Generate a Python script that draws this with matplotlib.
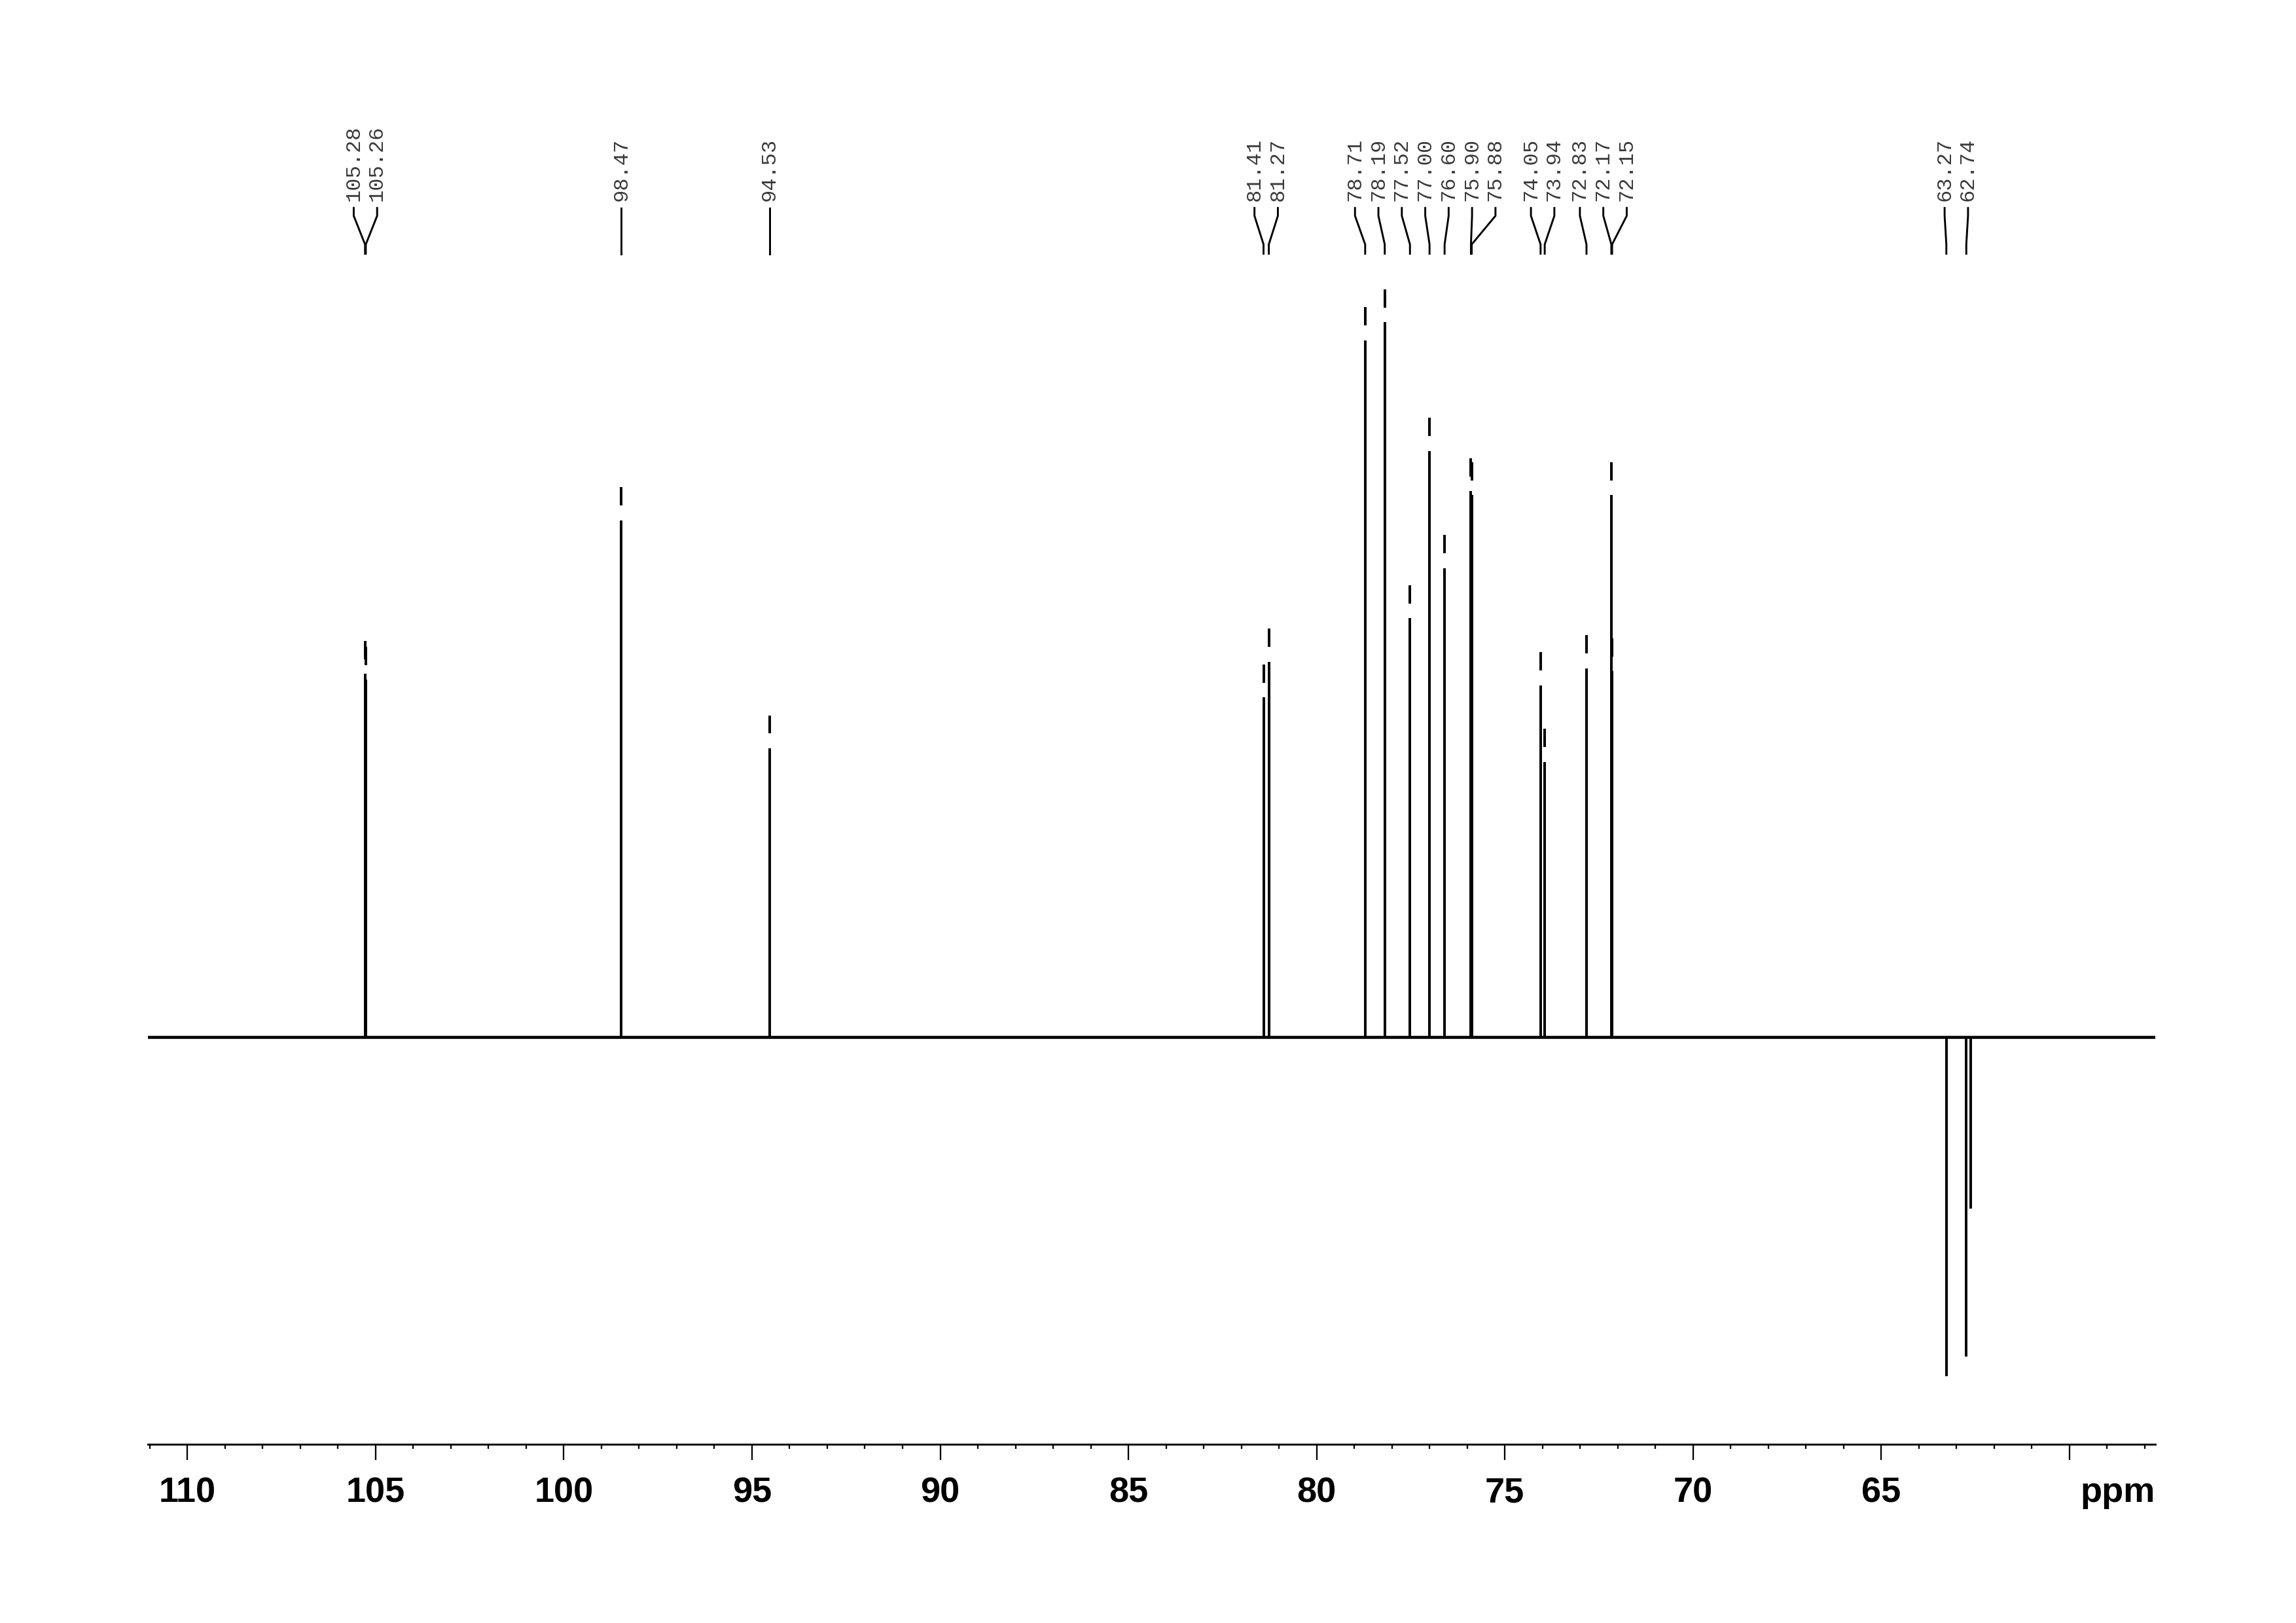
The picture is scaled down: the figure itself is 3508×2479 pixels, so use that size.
import matplotlib
matplotlib.use("Agg")
import matplotlib.pyplot as plt
import numpy as np
from matplotlib.ticker import FixedLocator, MultipleLocator, FixedFormatter

plt.rcParams['font.family'] = ['Liberation Sans Narrow', 'Liberation Sans', 'DejaVu Sans']

# ---- data -------------------------------------------------------------
# positive (CH) signals, ppm and relative intensity (tallest = 100)
pos_ppm = [105.28, 105.26, 98.47, 94.53, 81.41, 81.27, 78.71, 78.19, 77.52,
           77.00, 76.60, 75.90, 75.88, 74.05, 73.94, 72.83, 72.17, 72.15]
pos_int = [50.8, 50.0, 72.3, 40.4, 47.5, 52.5, 97.5, 100.0, 58.6,
           82.0, 65.6, 76.4, 75.8, 49.2, 38.5, 51.6, 75.8, 51.2]
# negative (CH2) signals
neg_ppm = [63.27, 62.74, 62.62]
neg_int = [-47.5, -44.7, -24.0]

# peak-picking labels
label_ppm = [105.28, 105.26, 98.47, 94.53, 81.41, 81.27, 78.71, 78.19, 77.52,
             77.00, 76.60, 75.90, 75.88, 74.05, 73.94, 72.83, 72.17, 72.15,
             63.27, 62.74]
label_txt = ["105.28", "105.26", "98.47", "94.53", "81.41", "81.27", "78.71",
             "78.19", "77.52", "77.00", "76.60", "75.90", "75.88", "74.05",
             "73.94", "72.83", "72.17", "72.15", "63.27", "62.74"]

# axis ticks
major_ticks = [110, 105, 100, 95, 90, 85, 80, 75, 70, 65, 60]
major_labels = ["110", "105", "100", "95", "90", "85", "80", "75", "70", "65", ""]

# ---- layout -----------------------------------------------------------
XMAX, XMIN = 111.05, 57.72
YMIN, YMAX = -57.0, 145.1
LABEL_GAP = 0.622          # min label spacing in ppm
DASH_GAP, DASH_LEN = 2.05, 2.56
TXT_Y = 117.0
CON_Y = [116.0, 114.9, 110.9, 109.6]


def spread(positions, gap):
    groups = [[p] for p in positions]
    changed = True
    while changed:
        changed = False
        placed = []
        for g in groups:
            c = np.mean(g)
            start = c + (len(g) - 1) * gap / 2
            placed.append((start, start - (len(g) - 1) * gap))
        for i in range(len(groups) - 1):
            if placed[i][1] - gap < placed[i + 1][0]:
                groups[i] = groups[i] + groups[i + 1]
                del groups[i + 1]
                changed = True
                break
    out = []
    for g in groups:
        c = np.mean(g)
        start = c + (len(g) - 1) * gap / 2
        out += [start - k * gap for k in range(len(g))]
    return out


fig = plt.figure(figsize=(3508 / 300, 2479 / 300), dpi=300)
ax = fig.add_axes([0.0644, 0.1101, 0.8743, 0.8899])
ax.set_xlim(XMAX, XMIN)
ax.set_ylim(YMIN, YMAX)

# spectrum
ax.axhline(0, color='black', lw=1.1)
ax.vlines(pos_ppm, 0, pos_int, color='black', lw=0.95)
ax.vlines(neg_ppm, 0, neg_int, color='black', lw=0.95)

# peak markers above the positive peaks
tops = np.array(pos_int)
ax.vlines(pos_ppm, tops + DASH_GAP, tops + DASH_GAP + DASH_LEN, color='black', lw=0.95)

# labels with connectors
lab_x = spread(label_ppm, LABEL_GAP)
for lx, px, t in zip(lab_x, label_ppm, label_txt):
    ax.plot([lx, lx, px, px], CON_Y, color='black', lw=0.7, solid_joinstyle='miter')
    ax.text(lx, TXT_Y, t, rotation=90, ha='center', va='bottom', fontsize=7.7,
            family=['Liberation Mono', 'DejaVu Sans Mono'], color='#3a3a3a')

# axis styling
for s in ['top', 'left', 'right']:
    ax.spines[s].set_visible(False)
ax.spines['bottom'].set_linewidth(0.7)
ax.set_yticks([])
ax.xaxis.set_major_locator(FixedLocator(major_ticks))
ax.xaxis.set_major_formatter(FixedFormatter(major_labels))
ax.xaxis.set_minor_locator(MultipleLocator(1))
ax.tick_params(axis='x', which='major', length=5.8, width=0.55, direction='out',
               pad=6, labelsize=13)
ax.tick_params(axis='x', which='minor', length=1.6, width=0.55, direction='out')
for lbl in ax.get_xticklabels():
    lbl.set_fontweight('bold')

ax.annotate('ppm', xy=(1, 0), xycoords='axes fraction', xytext=(0, -(5.8 + 6)),
            textcoords='offset points', ha='right', va='top', fontsize=13,
            fontweight='bold')

fig.savefig('out.png', dpi=300, facecolor='white')
